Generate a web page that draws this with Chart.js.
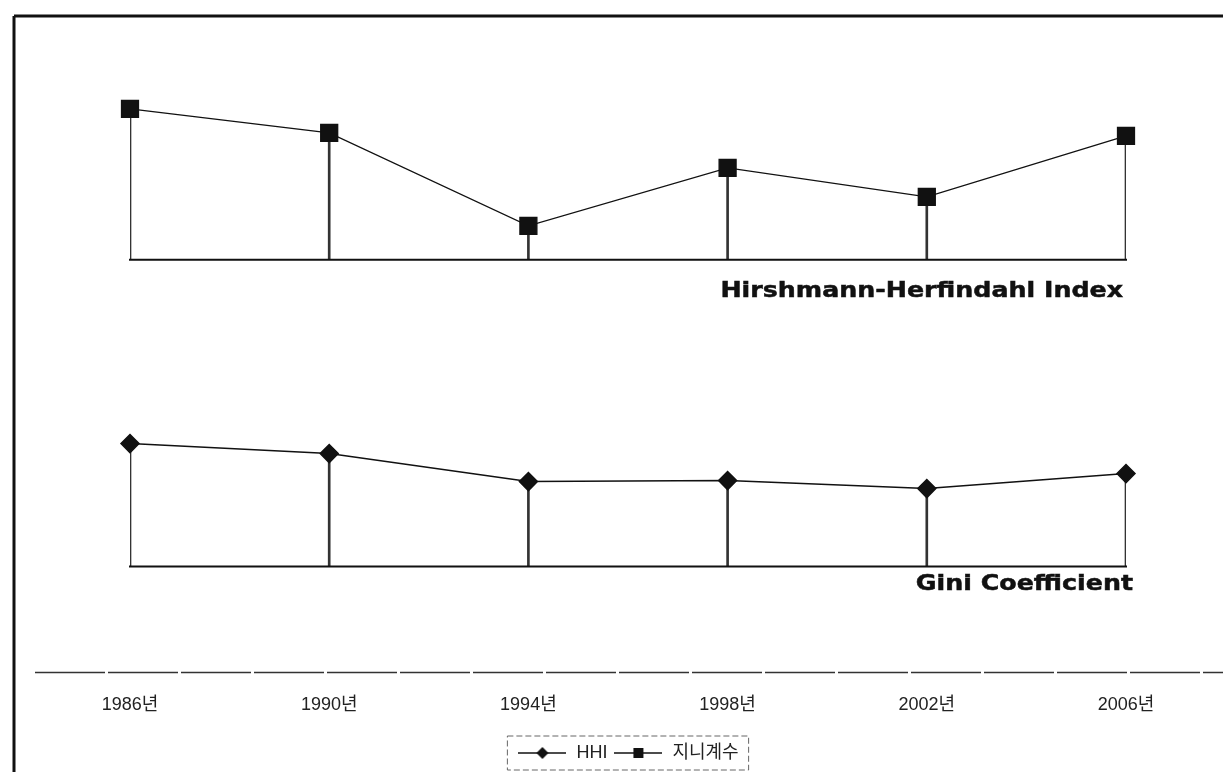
<!DOCTYPE html>
<html>
<head>
<meta charset="utf-8">
<script src="https://cdn.jsdelivr.net/npm/chart.js@4.4.0/dist/chart.umd.min.js"></script>
<style>
  body { margin: 0; background: #fff; }
  #wrap { width: 1223px; height: 772px; }
</style>
</head>
<body>
<div id="wrap"><canvas id="IndexChart"></canvas></div>
<script>
// years on the x axis
const years = ['1986년', '1990년', '1994년', '1998년', '2002년', '2006년'];

// square series, top panel
const giniValues = [0.751, 0.727, 0.634, 0.692, 0.663, 0.724];
const giniBase = 0.6;

// diamond series, bottom panel
const hhiValues = [1230, 1130, 850, 860, 780, 930];
const hhiBase = 0;

const seriesNames = ['HHI', '지니계수'];
const panelTitles = ['Hirshmann-Herfindahl Index', 'Gini Coefficient'];

const FONT = "'Liberation Sans', 'Noto Sans CJK KR', sans-serif";
const INK = '#111';

// small line + marker picture for the legend
function legendIcon(style) {
  const c = document.createElement('canvas');
  c.width = 48;
  c.height = 16;
  const g = c.getContext('2d');
  g.strokeStyle = INK;
  g.lineWidth = 1.5;
  g.beginPath();
  g.moveTo(0, 8);
  g.lineTo(48, 8);
  g.stroke();
  g.fillStyle = INK;
  if (style === 'diamond') {
    g.beginPath();
    g.moveTo(24, 2);
    g.lineTo(30, 8);
    g.lineTo(24, 14);
    g.lineTo(18, 8);
    g.closePath();
    g.fill();
  } else {
    g.fillRect(19, 3, 10, 10);
  }
  return c;
}

// heavy, slightly stretched text for the panel titles
function heavyText(ctx, text, x, y) {
  ctx.save();
  ctx.translate(x, y);
  ctx.scale(1.15, 1);
  ctx.fillText(text, 0, 0);
  ctx.lineWidth = 0.5;
  ctx.strokeText(text, 0, 0);
  ctx.restore();
}

const decorations = {
  id: 'decorations',
  afterDraw(chart) {
    const ctx = chart.ctx;
    const area = chart.chartArea;
    const yTop = chart.scales.yTop;
    const yBot = chart.scales.yBot;
    ctx.save();

    // outer frame (top and left edge)
    ctx.strokeStyle = INK;
    ctx.lineWidth = 3;
    ctx.beginPath();
    ctx.moveTo(14, 16);
    ctx.lineTo(chart.width, 16);
    ctx.moveTo(14, 16);
    ctx.lineTo(14, chart.height);
    ctx.stroke();

    // panel baselines
    ctx.lineWidth = 2;
    const topBase = yTop.getPixelForValue(giniBase);
    const botBase = yBot.getPixelForValue(hhiBase);
    ctx.beginPath();
    ctx.moveTo(area.left - 1, topBase);
    ctx.lineTo(area.right + 1, topBase);
    ctx.moveTo(area.left - 1, botBase);
    ctx.lineTo(area.right + 1, botBase);
    ctx.stroke();

    // dashed line above the year labels
    ctx.strokeStyle = '#333';
    ctx.lineWidth = 1.5;
    ctx.setLineDash([70, 3]);
    ctx.beginPath();
    ctx.moveTo(35, area.bottom);
    ctx.lineTo(chart.width, area.bottom);
    ctx.stroke();
    ctx.setLineDash([]);

    // panel titles
    ctx.fillStyle = INK;
    ctx.strokeStyle = INK;
    ctx.textAlign = 'right';
    ctx.textBaseline = 'middle';
    ctx.font = "bold 22px 'DejaVu Sans', sans-serif";
    heavyText(ctx, panelTitles[0], area.right - 3, topBase + 32);
    heavyText(ctx, panelTitles[1], area.right + 7, botBase + 18);

    // dashed box round the legend
    const boxes = chart.legend.legendHitBoxes;
    if (boxes && boxes.length) {
      const l = Math.min(...boxes.map(b => b.left)) - 10;
      const r = Math.max(...boxes.map(b => b.left + b.width)) + 10;
      const t = Math.min(...boxes.map(b => b.top)) - 8;
      const b = Math.max(...boxes.map(b => b.top + b.height)) + 8;
      ctx.strokeStyle = '#666';
      ctx.lineWidth = 1;
      ctx.setLineDash([6, 3]);
      ctx.strokeRect(l, t, r - l, b - t);
    }
    ctx.restore();
  }
};

const chartData = {
  labels: years,
  datasets: [
    {
      type: 'line',
      label: seriesNames[1],
      data: giniValues,
      yAxisID: 'yTop',
      borderColor: INK,
      borderWidth: 1.3,
      pointStyle: 'rect',
      pointRadius: 12,
      pointBackgroundColor: INK,
      pointBorderColor: INK,
      tension: 0,
      order: 1,
    },
    {
      type: 'line',
      label: seriesNames[0],
      data: hhiValues,
      yAxisID: 'yBot',
      borderColor: INK,
      borderWidth: 1.5,
      pointStyle: 'rectRot',
      pointRadius: 9,
      pointBackgroundColor: INK,
      pointBorderColor: INK,
      tension: 0,
      order: 1,
    },
    // drop lines from each point down to its baseline
    {
      type: 'bar',
      label: 'drop-top',
      data: giniValues.map(v => [giniBase, v]),
      yAxisID: 'yTop',
      backgroundColor: '#333',
      barThickness: 2,
      grouped: false,
      order: 2,
    },
    {
      type: 'bar',
      label: 'drop-bottom',
      data: hhiValues.map(v => [hhiBase, v]),
      yAxisID: 'yBot',
      backgroundColor: '#333',
      barThickness: 2,
      grouped: false,
      order: 2,
    },
  ],
};

const chartConfig = {
  type: 'line',
  data: chartData,
  options: {
    responsive: true,
    maintainAspectRatio: false,
    animation: false,
    layout: {
      padding: { top: 16, left: 130, right: 97, bottom: 0 },
    },
    plugins: {
      tooltip: { enabled: false },
      legend: {
        position: 'bottom',
        labels: {
          usePointStyle: true,
          pointStyleWidth: 50,
          padding: 6,
          color: '#222',
          font: { family: FONT, size: 18 },
          generateLabels: () => [
            { text: seriesNames[0], pointStyle: legendIcon('diamond'), fillStyle: INK, strokeStyle: INK, lineWidth: 0, hidden: false, datasetIndex: 1, fontColor: '#222' },
            { text: seriesNames[1], pointStyle: legendIcon('square'), fillStyle: INK, strokeStyle: INK, lineWidth: 0, hidden: false, datasetIndex: 0, fontColor: '#222' },
          ],
        },
      },
    },
    scales: {
      x: {
        type: 'category',
        offset: false,
        grid: { display: false, drawTicks: false },
        border: { display: false },
        ticks: {
          padding: 22,
          color: '#222',
          maxRotation: 0,
          font: { family: FONT, size: 18 },
        },
      },
      yTop: {
        type: 'linear',
        display: false,
        min: 0.187,
        max: 0.844,
      },
      yBot: {
        type: 'linear',
        display: false,
        min: -1060,
        max: 5510,
      },
    },
  },
  plugins: [decorations],
};

const ctx = document.getElementById('IndexChart').getContext('2d');
new Chart(ctx, chartConfig);
</script>
</body>
</html>
